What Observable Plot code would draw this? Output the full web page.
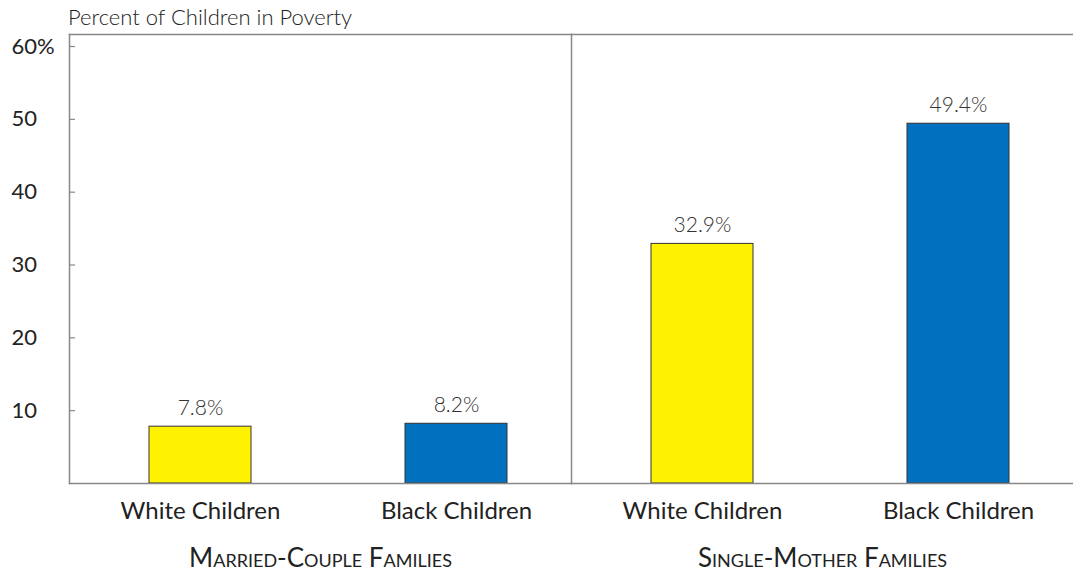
<!DOCTYPE html>
<html>
<head>
<meta charset="utf-8">
<script src="https://cdn.jsdelivr.net/npm/d3@7"></script>
<script src="https://cdn.jsdelivr.net/npm/@observablehq/plot@0.6"></script>
<style>
  body { margin: 0; background: #fff; font-family: Lato, "Open Sans", sans-serif; }
  #title { height: 28px; padding-left: 68px; font-size: 22px; font-weight: 300; color: #222; line-height: 22px; box-sizing: border-box; padding-top: 6px; white-space: nowrap; overflow: visible; }
  svg { display: block; }
</style>
</head>
<body>
<div id="title">Percent of Children in Poverty</div>
<div id="chart"></div>
<script>
const groups = ["Married-Couple Families", "Single-Mother Families"];
const races = ["White Children", "Black Children"];
const values = [
  [7.8, 8.2],   // Married-Couple: White, Black
  [32.9, 49.4]  // Single-Mother: White, Black
];
const colors = ["#FFF200", "#0070BF"];
const yTicks = [10, 20, 30, 40, 50, 60];

const data = [];
groups.forEach((g, i) => races.forEach((r, j) => data.push({group: g, race: r, value: values[i][j]})));

const chart = Plot.plot({
  width: 1073,
  height: 544,
  marginTop: 6,
  marginLeft: 68,
  marginRight: 0,
  marginBottom: 89,
  style: {fontFamily: "Lato, 'Open Sans', sans-serif", color: "#222", background: "#fff"},
  fx: {domain: groups, paddingInner: 0, paddingOuter: 0, label: null},
  x: {domain: races, paddingInner: 0.6, paddingOuter: 0.28, align: 0.56, label: null},
  y: {domain: [0, 61.65], label: null},
  color: {domain: races, range: colors},
  marks: [
    Plot.barY(data, {fx: "group", x: "race", y: "value", fill: "race", stroke: "#333", strokeWidth: 1}),
    Plot.text(data, {fx: "group", x: "race", y: "value", text: d => d.value.toFixed(1) + "%", dy: -12, lineAnchor: "bottom", fontSize: 21, fontWeight: 300, fill: "#333"}),
    Plot.frame({anchor: "top", stroke: "#888", strokeWidth: 1.5}),
    Plot.frame({anchor: "bottom", stroke: "#888", strokeWidth: 1.5}),
    Plot.frame({anchor: "left", stroke: "#888", strokeWidth: 1.5}),
    Plot.axisY({ticks: yTicks, tickFormat: d => d === 60 ? "60%" : String(d), tickSize: -6, tickPadding: 64, textAnchor: "start", fontSize: 22, stroke: "#888", strokeWidth: 1.2, label: null}),
    Plot.axisX({anchor: "bottom", tickSize: 0, tickPadding: 18, fontSize: 24, label: null}),
    Plot.axisFx({anchor: "bottom", tickSize: 0, tickPadding: 65, fontSize: 26, fontVariant: "small-caps", label: null})
  ]
});
document.getElementById("chart").appendChild(chart);
</script>
</body>
</html>
